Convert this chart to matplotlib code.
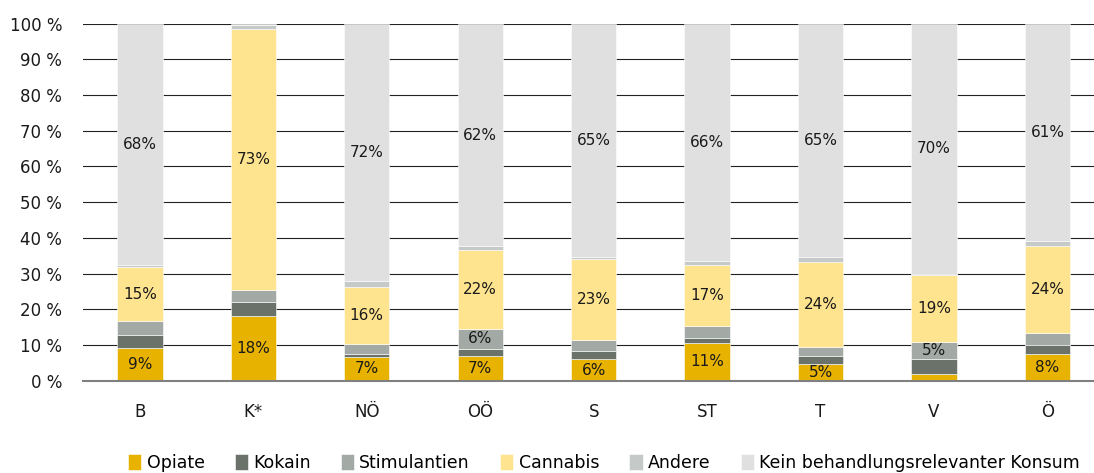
import matplotlib
matplotlib.use("Agg")
import matplotlib.pyplot as plt
import numpy as np

# regions
regions = ["B", "K*", "NÖ", "OÖ", "S", "ST", "T", "V", "Ö"]

# shares in percent, per substance group
opiate = [9.2, 18.0, 6.6, 6.9, 6.0, 10.6, 4.6, 1.8, 7.6]
kokain = [3.7, 4.0, 1.0, 2.0, 2.4, 1.3, 2.3, 4.2, 2.3]
stimulantien = [3.7, 3.5, 2.8, 5.7, 2.9, 3.3, 2.5, 4.8, 3.6]
cannabis = [15.2, 72.9, 15.8, 21.9, 22.7, 17.3, 23.8, 18.8, 24.3]
andere = [0.5, 1.2, 1.6, 1.1, 0.6, 1.1, 1.4, 0.2, 1.2]
kein = [67.7, 0.4, 72.2, 62.4, 65.4, 66.4, 65.4, 70.2, 61.0]

series = [
    ("Opiate", opiate, "#E8B300"),
    ("Kokain", kokain, "#6A7269"),
    ("Stimulantien", stimulantien, "#A3AAA5"),
    ("Cannabis", cannabis, "#FEE48F"),
    ("Andere", andere, "#C5C9C7"),
    ("Kein behandlungsrelevanter Konsum", kein, "#E0E0E0"),
]

plt.rcParams["font.family"] = ["DejaVu Sans"]
fig = plt.figure(figsize=(10.94, 4.73), dpi=100)
ax = fig.add_axes([0.076, 0.195, 0.924, 0.755])

x = np.arange(len(regions))
bottom = np.zeros(len(regions))
for name, vals, col in series:
    vals = np.array(vals)
    ax.bar(x, vals, 0.4, bottom=bottom, color=col, label=name,
           edgecolor="white", linewidth=0.4, zorder=3)
    for xi, b, v in zip(x, bottom, vals):
        if round(v) >= 5:
            ax.text(xi, b + v / 2, "%d%%" % round(v), ha="center", va="center",
                    fontsize=11, color="#1a1a1a", zorder=4)
    bottom = bottom + vals

ax.set_xlim(-0.5, 8.41)
ax.set_ylim(0, 100)
ax.set_yticks(np.arange(0, 101, 10))
ax.set_yticklabels(["%d %%" % t for t in range(0, 101, 10)])
ax.set_xticks(x)
ax.set_xticklabels(regions)
ax.tick_params(axis="y", length=0, pad=15, labelsize=12, colors="#1a1a1a")
ax.tick_params(axis="x", length=0, pad=16, labelsize=12, colors="#1a1a1a")
ax.yaxis.grid(True, color="#222222", linewidth=0.8, zorder=0)
ax.set_axisbelow(True)
for s in ["top", "right", "left"]:
    ax.spines[s].set_visible(False)
ax.spines["bottom"].set_color("#808080")
ax.spines["bottom"].set_linewidth(1.5)
ax.spines["bottom"].set_zorder(5)

fig.legend(loc="center", bbox_to_anchor=(604 / 1094, 1 - 463 / 473), ncol=6,
           frameon=False, fontsize=12.5, handlelength=0.75, handleheight=1.0,
           handletextpad=0.3, columnspacing=1.75, borderaxespad=0)

fig.savefig("out.png", dpi=100)
